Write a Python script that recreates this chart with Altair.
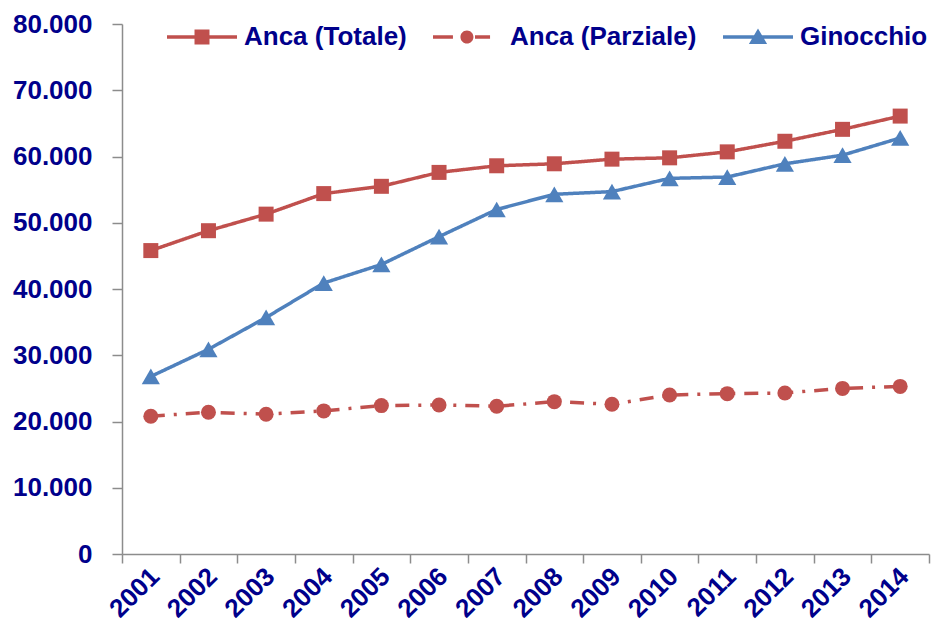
import altair as alt
import pandas as pd

years = [str(y) for y in range(2001, 2015)]
series_names = ["Anca (Totale)", "Anca (Parziale)", "Ginocchio"]
anca_totale = [45800, 48800, 51300, 54400, 55500, 57600, 58600, 58900, 59600, 59800, 60700, 62300, 64100, 66100]
anca_parziale = [20800, 21400, 21100, 21600, 22400, 22500, 22300, 23000, 22600, 24000, 24200, 24300, 25000, 25300]
ginocchio = [26800, 30900, 35700, 40900, 43700, 47900, 52000, 54300, 54700, 56700, 56900, 58900, 60200, 62800]
colors = ["#C0504D", "#C0504D", "#4F81BD"]
markers = ["square", "circle", "triangle-up"]
marker_sizes = [225, 225, 330]
dashes = [[1, 0], [14, 9, 3, 9], [1, 0]]

# legend symbols: line + marker (unit coordinates, symbol width = 70 px)
leg_paths = [
    "M-1,-0.05L1,-0.05L1,0.05L-1,0.05Z M-0.214,-0.214L0.214,-0.214L0.214,0.214L-0.214,0.214Z",
    "M-1,-0.05L-0.43,-0.05L-0.43,0.05L-1,0.05Z M-0.216,0A0.186,0.186 0 1,1 0.156,0A0.186,0.186 0 1,1 -0.216,0Z M0.2,-0.05L0.63,-0.05L0.63,0.05L0.2,0.05Z",
    "M-1,-0.05L1,-0.05L1,0.05L-1,0.05Z M0,-0.24L0.26,0.2L-0.26,0.2Z",
]

rows = []
for name, vals in zip(series_names, [anca_totale, anca_parziale, ginocchio]):
    for y, v in zip(years, vals):
        rows.append({"anno": y, "valore": v, "serie": name})
df = pd.DataFrame(rows)

FONT = "Liberation Sans, Arial, sans-serif"
TXT = "#00008B"
FS = 26

x_enc = alt.X("anno:N", sort=years, title=None,
              scale=alt.Scale(paddingInner=0, paddingOuter=0),
              axis=alt.Axis(labelAngle=-45, labelAlign="right", labelBaseline="middle",
                            labelPadding=9, labelOffset=4, tickBand="extent", tickSize=9,
                            domainColor="#8C8C8C", tickColor="#8C8C8C", domainWidth=1.5, tickWidth=1.5,
                            labelFont=FONT, labelFontSize=FS, labelFontWeight="bold", labelColor=TXT,
                            grid=False))
y_enc = alt.Y("valore:Q", title=None,
              scale=alt.Scale(domain=[0, 80000], nice=False),
              axis=alt.Axis(values=[0, 10000, 20000, 30000, 40000, 50000, 60000, 70000, 80000],
                            labelExpr="replace(format(datum.value, ','), ',', '.')",
                            tickSize=10, labelPadding=20,
                            domainColor="#8C8C8C", tickColor="#8C8C8C", domainWidth=1.5, tickWidth=1.5,
                            labelFont=FONT, labelFontSize=FS, labelFontWeight="bold", labelColor=TXT,
                            grid=False))
color_scale = alt.Scale(domain=series_names, range=colors)

base = alt.Chart(df)

lines = base.mark_line(strokeWidth=3.5).encode(
    x=x_enc, y=y_enc,
    color=alt.Color("serie:N", scale=color_scale, legend=None),
    strokeDash=alt.StrokeDash("serie:N", scale=alt.Scale(domain=series_names, range=dashes), legend=None),
)

point_layers = []
for name, mk, sz in zip(series_names, markers, marker_sizes):
    point_layers.append(
        base.transform_filter(alt.datum.serie == name)
        .mark_point(filled=True, opacity=1, shape=mk, size=sz)
        .encode(x=x_enc, y=y_enc,
                color=alt.Color("serie:N", scale=color_scale, legend=None))
    )

leg = alt.Legend(orient="none", legendX=45, legendY=-22, direction="horizontal",
                 title=None, symbolSize=4900, symbolOpacity=1, symbolStrokeWidth=0,
                 labelFont=FONT, labelFontSize=FS, labelFontWeight="bold",
                 labelColor=TXT, labelOffset=7, columnPadding=26, padding=0,
                 labelLimit=400)

legend_layer = base.mark_point(filled=True, opacity=0).encode(
    x=x_enc, y=y_enc,
    color=alt.Color("serie:N", scale=color_scale, legend=leg),
    shape=alt.Shape("serie:N", scale=alt.Scale(domain=series_names, range=leg_paths), legend=leg),
)

chart = alt.layer(lines, *point_layers, legend_layer).resolve_legend(
    color="independent", shape="independent", strokeDash="independent"
).properties(
    width=807, height=530,
    background="white",
    autosize=alt.AutoSizeParams(type="none"),
    padding={"left": 114, "top": 16, "right": 4, "bottom": 69},
).configure_view(strokeWidth=0)

chart.save("out.html", embed_options={"renderer": "svg", "actions": False})
